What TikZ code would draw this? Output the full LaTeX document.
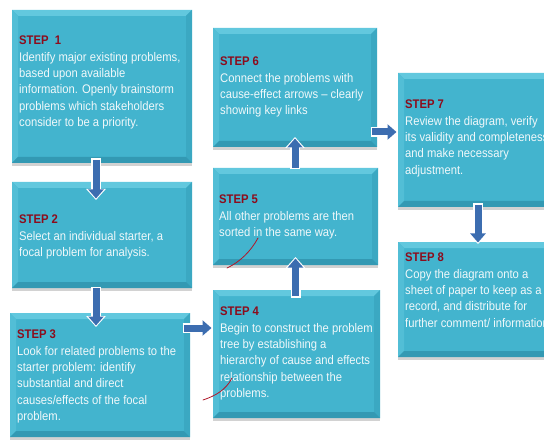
\documentclass[tikz,border=0pt]{standalone}
\usepackage{fontspec}
\setmainfont{Liberation Sans}[FakeStretch=0.9]
\usetikzlibrary{arrows.meta,shadows}

\definecolor{face}{HTML}{43B4CE}
\definecolor{bevtop}{HTML}{62C8DE}
\definecolor{bevleft}{HTML}{52BED6}
\definecolor{bevright}{HTML}{3BA8C2}
\definecolor{bevbottom}{HTML}{3399B3}
\definecolor{stepred}{HTML}{8C0C1C}
\definecolor{bodytext}{HTML}{F0F8FA}
\definecolor{flowblue}{HTML}{3C6DB0}
\definecolor{penred}{HTML}{B0182A}

\newcommand{\steplabel}[1]{{\color{stepred}\bfseries #1}}

\tikzset{
  stepbox/.style={
    rectangle, anchor=north west, inner sep=0pt, outer sep=0pt,
    fill=face,
    drop shadow={shadow xshift=0pt, shadow yshift=-3pt, opacity=0.25, fill=black!70},
    path picture={
      \def\bw{6pt}
      \fill[bevtop] (path picture bounding box.north west) -- (path picture bounding box.north east)
        -- ([xshift=-\bw,yshift=-\bw]path picture bounding box.north east)
        -- ([xshift=\bw,yshift=-\bw]path picture bounding box.north west) -- cycle;
      \fill[bevleft] (path picture bounding box.north west) -- (path picture bounding box.south west)
        -- ([xshift=\bw,yshift=\bw]path picture bounding box.south west)
        -- ([xshift=\bw,yshift=-\bw]path picture bounding box.north west) -- cycle;
      \fill[bevright] (path picture bounding box.north east) -- (path picture bounding box.south east)
        -- ([xshift=-\bw,yshift=\bw]path picture bounding box.south east)
        -- ([xshift=-\bw,yshift=-\bw]path picture bounding box.north east) -- cycle;
      \fill[bevbottom] (path picture bounding box.south west) -- (path picture bounding box.south east)
        -- ([xshift=-\bw,yshift=\bw]path picture bounding box.south east)
        -- ([xshift=\bw,yshift=\bw]path picture bounding box.south west) -- cycle;
    }
  },
  steptext/.style={
    anchor=north west, inner sep=0pt, align=left, text=bodytext,
    font=\fontsize{12.5}{16.3}\selectfont
  },
  flow/.style={
    draw=flowblue, line width=7pt,
    -{Triangle[width=15pt,length=9pt]}, shorten >=1.5pt,
    preaction={draw=white, line width=10pt,
      -{Triangle[width=19pt,length=11pt]}, shorten >=0pt, shorten <=-1.5pt}
  },
  penmark/.style={draw=penred, line width=0.8pt, line cap=round}
}

\begin{document}
\begin{tikzpicture}[x=1pt,y=-1pt]
\useasboundingbox (0,0) rectangle (544,441);
\clip (0,0) rectangle (544,441);

% step boxes
\node[stepbox, minimum width=180pt, minimum height=153pt] (b1) at (12,10) {};
\node[stepbox, minimum width=180pt, minimum height=106pt] (b2) at (12,182) {};
\node[stepbox, minimum width=180pt, minimum height=124pt] (b3) at (10,313) {};
\node[stepbox, minimum width=167pt, minimum height=128pt] (b4) at (213,290) {};
\node[stepbox, minimum width=165pt, minimum height=97pt]  (b5) at (213,168) {};
\node[stepbox, minimum width=164pt, minimum height=119pt] (b6) at (213,28) {};
\node[stepbox, minimum width=162pt, minimum height=134pt] (b7) at (398,73) {};
\node[stepbox, minimum width=162pt, minimum height=115pt] (b8) at (398,242) {};

% step texts
\node[steptext] (t1) at (19,36) {\steplabel{STEP\ \ 1}\\Identify major existing problems,\\based upon available\\information. Openly brainstorm\\problems which stakeholders\\consider to be a priority.};
\node[steptext] (t2) at (19,215) {\steplabel{STEP 2}\\Select an individual starter, a\\focal problem for analysis.};
\node[steptext] (t3) at (17,330) {\steplabel{STEP 3}\\Look for related problems to the\\starter problem: identify\\substantial and direct\\causes/effects of the focal\\problem.};
\node[steptext] (t4) at (220,307) {\steplabel{STEP 4}\\Begin to construct the problem\\tree by establishing a\\hierarchy of cause and effects\\relationship between the\\problems.};
\node[steptext] (t5) at (219,195) {\steplabel{STEP 5}\\All other problems are then\\sorted in the same way.};
\node[steptext] (t6) at (220,57) {\steplabel{STEP 6}\\Connect the problems with\\cause-effect arrows – clearly\\showing key links};
\node[steptext] (t7) at (405,100) {\steplabel{STEP 7}\\Review the diagram, verify\\its validity and completeness\\and make necessary\\adjustment.};
\node[steptext] (t8) at (405,253) {\steplabel{STEP 8}\\Copy the diagram onto a\\sheet of paper to keep as a\\record, and distribute for\\further comment/ information};

% flow arrows between steps
\draw[flow] ([xshift=-6pt,yshift=3pt]b1.south) -- ([xshift=-6pt,yshift=-18pt]b2.north);
\draw[flow] ([xshift=-6pt]b2.south) -- ([xshift=-4pt,yshift=-14pt]b3.north);
\draw[flow] ([xshift=-6pt,yshift=-15pt]b3.north east) -- ([yshift=-38pt]b4.north west);
\draw[flow] ([xshift=-1pt,yshift=-6pt]b4.north) -- ([yshift=8pt]b5.south);
\draw[flow] ([xshift=-0.5pt]b5.north) -- ([yshift=10pt]b6.south);
\draw[flow] ([xshift=-5pt,yshift=15pt]b6.south east) -- ([yshift=-59pt]b7.north west);
\draw[flow] ([xshift=80pt,yshift=2pt]b7.south west) -- ([xshift=80pt,yshift=-2pt]b8.north west);

% pen strokes
\draw[penmark] (227,268) .. controls (240,262) and (251,251) .. (258,238);
\draw[penmark] (203,400) .. controls (215,396) and (226,390) .. (232,378);
\end{tikzpicture}
\end{document}
